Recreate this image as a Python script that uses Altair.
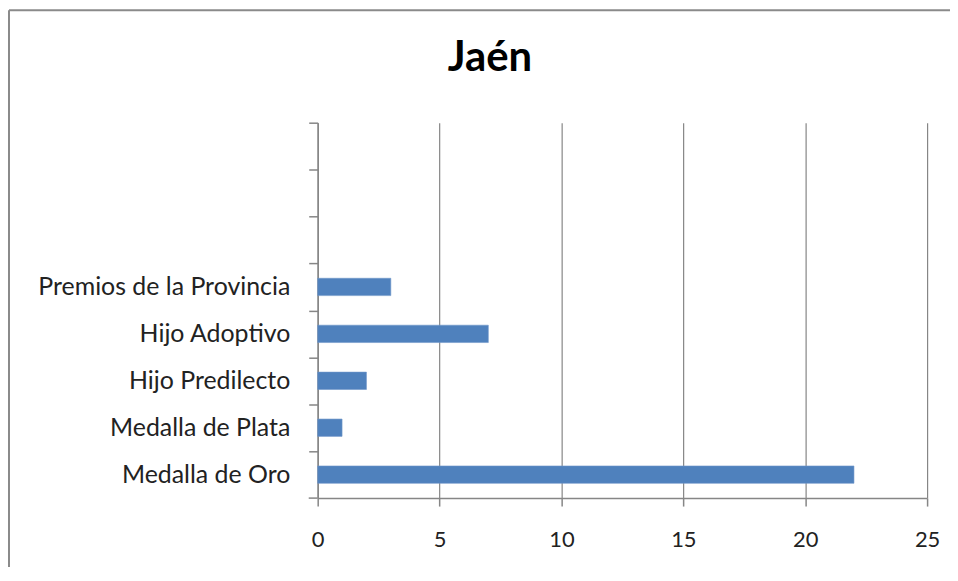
import altair as alt
import pandas as pd

# ---- data ----
categories = ["Medalla de Oro", "Medalla de Plata", "Hijo Predilecto",
              "Hijo Adoptivo", "Premios de la Provincia"]
values = [22, 1, 2, 7, 3]
blank_slots = ["   ", "  ", " "]          # three empty category slots at the top
x_ticks = [0, 5, 10, 15, 20, 25]
title_text = "Jaén"

df = pd.DataFrame({"categoria": categories, "valor": values})
y_domain = blank_slots + categories[::-1]

W, H = 612, 377
STEP = H / len(y_domain)
GRAY = "#868686"
FONT = "Lato"
PAD_L = 311

bars = alt.Chart(df).mark_bar(color="#4F81BD", stroke="#6F97C9", strokeWidth=0.6).encode(
    x=alt.X("valor:Q",
            scale=alt.Scale(domain=[0, 25], nice=False),
            axis=alt.Axis(values=x_ticks, title=None, grid=True, gridColor=GRAY,
                          gridWidth=1.2, domainColor=GRAY, domainWidth=1.5,
                          tickColor=GRAY, tickWidth=1.5, tickSize=8,
                          labelFont=FONT, labelFontSize=22, labelColor="#222222",
                          labelPadding=24, labelFlush=False)),
    y=alt.Y("categoria:N",
            scale=alt.Scale(domain=y_domain, paddingInner=0.63, paddingOuter=0.315),
            axis=alt.Axis(title=None, tickOffset=-STEP / 2, labelOffset=STEP / 2,
                          tickSize=9, tickColor=GRAY, tickWidth=1.5,
                          domainColor=GRAY, domainWidth=1.5,
                          labelFont=FONT, labelFontSize=25, labelColor="#222222",
                          labelPadding=19, labelLimit=400)),
)

one = alt.Data(values=[{}])
# bottom category tick (closing the last band), drawn as axis decoration
last_tick = alt.Chart(one).mark_rule(color=GRAY, strokeWidth=1.5).encode(
    x=alt.value(-9), x2=alt.value(0), y=alt.value(H))
# chart title
title = alt.Chart(one).mark_text(font=FONT, fontSize=42, fontWeight="bold",
                                 color="#000000", align="center",
                                 baseline="alphabetic").encode(
    x=alt.value(173), y=alt.value(-52), text=alt.value(title_text))
# outer chart frame
frame_top = alt.Chart(one).mark_rule(color="#8A8A8A", strokeWidth=2).encode(
    x=alt.value(-PAD_L + 1), x2=alt.value(660), y=alt.value(-113))
frame_left = alt.Chart(one).mark_rule(color="#8A8A8A", strokeWidth=2).encode(
    x=alt.value(-PAD_L + 1), y=alt.value(-113), y2=alt.value(H + 80))

chart = alt.layer(bars, last_tick, title, frame_top, frame_left).properties(
    width=W, height=H,
    autosize=alt.AutoSizeParams(type="none"),
    padding={"left": PAD_L, "top": 114, "right": 23, "bottom": 68},
).configure_view(stroke=None)

chart.save("out.html", embed_options={"renderer": "svg", "actions": False})
